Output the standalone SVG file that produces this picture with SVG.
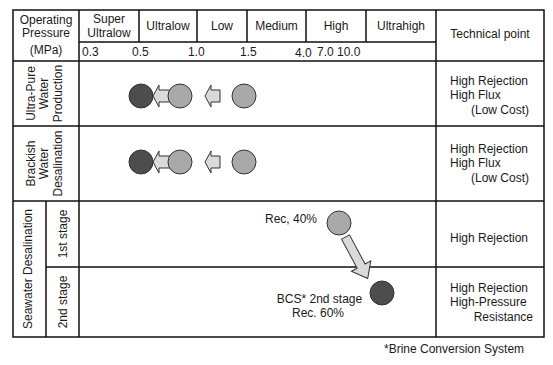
<svg xmlns="http://www.w3.org/2000/svg" width="553" height="365" viewBox="0 0 553 365">
<style>
text{font-family:"Liberation Sans",Arial,sans-serif;font-size:12px;fill:#1a1a1a}
.m{text-anchor:middle}
.e{text-anchor:end}
.ln{stroke:#111;stroke-width:1.5;fill:none}
.dk{fill:#4d4d4d;stroke:#333;stroke-width:1}
.gy{fill:#a9a9a9;stroke:#333;stroke-width:1}
.ar{fill:#dadada;stroke:#333;stroke-width:1}
</style>
<rect width="553" height="365" fill="#fff"/>
<g id="table">
<rect x="13" y="10" width="531" height="327" class="ln"/>
<path class="ln" d="M79 10V337M436 10V337M46 201V337M139 10V42M197 10V42M247 10V42M306 10V42M366 10V42M79 42H436M13 61H544M13 126H544M13 201H544M46 267H544"/>
</g>
<g id="header">
<text class="m" x="46" y="24">Operating</text>
<text class="m" x="46" y="37">Pressure</text>
<text class="m" x="46" y="54">(MPa)</text>
<text class="m" x="109" y="23">Super</text>
<text class="m" x="109" y="37">Ultralow</text>
<text class="m" x="168" y="30">Ultralow</text>
<text class="m" x="222" y="30">Low</text>
<text class="m" x="276.5" y="30">Medium</text>
<text class="m" x="336" y="30">High</text>
<text class="m" x="401" y="30">Ultrahigh</text>
<text class="m" x="490" y="38">Technical point</text>
<text x="82" y="56">0.3</text>
<text x="132" y="56">0.5</text>
<text x="188" y="56">1.0</text>
<text x="240" y="56">1.5</text>
<text x="295" y="57">4.0</text>
<text x="317" y="56">7.0</text>
<text x="337" y="56">10.0</text>
</g>
<g id="row-labels">
<text class="m" transform="translate(34.5 93.5) rotate(-90)">Ultra-Pure</text>
<text class="m" transform="translate(48 93.5) rotate(-90)">Water</text>
<text class="m" transform="translate(61.5 93.5) rotate(-90)">Production</text>
<text class="m" transform="translate(34.5 163.5) rotate(-90)">Brackish</text>
<text class="m" transform="translate(48 163.5) rotate(-90)">Water</text>
<text class="m" transform="translate(61.5 163.5) rotate(-90)">Desalination</text>
<text class="m" transform="translate(32 269) rotate(-90)">Seawater Desalination</text>
<text class="m" transform="translate(67 234) rotate(-90)">1st stage</text>
<text class="m" transform="translate(67 302) rotate(-90)">2nd stage</text>
</g>
<g id="connectors">
<path class="ar" d="M153 96L159 85V90H170V102H159V107Z"/>
<path class="ar" d="M205 96L211 85V90H220V102H211V107Z"/>
<path class="ar" d="M153 162L159 151V156H170V168H159V173Z"/>
<path class="ar" d="M205 162L211 151V156H220V168H211V173Z"/>
<path class="ar" transform="translate(345.5 237) rotate(61.8)" d="M0 -4.5H33V-11L47 0L33 11V4.5H0Z"/>
</g>
<g id="ultrapure-nodes">
<circle class="dk" cx="141" cy="96" r="12"/>
<circle class="gy" cx="180" cy="96" r="12"/>
<circle class="gy" cx="244" cy="96" r="12"/>
</g>
<g id="brackish-nodes">
<circle class="dk" cx="141" cy="162" r="12"/>
<circle class="gy" cx="180" cy="162" r="12"/>
<circle class="gy" cx="244" cy="162" r="12"/>
</g>
<g id="seawater-1st">
<circle class="gy" cx="339" cy="223" r="12"/>
<text class="e" x="317" y="223">Rec, 40%</text>
</g>
<g id="seawater-2nd">
<circle class="dk" cx="382" cy="293" r="12"/>
<text class="m" x="319.5" y="303">BCS* 2nd stage</text>
<text class="m" x="318" y="317">Rec. 60%</text>
</g>
<g id="technical-points">
<text x="450" y="84.5">High Rejection</text>
<text x="450" y="99">High Flux</text>
<text class="e" x="529" y="114">(Low Cost)</text>
<text x="450" y="152.5">High Rejection</text>
<text x="450" y="167">High Flux</text>
<text class="e" x="529" y="182">(Low Cost)</text>
<text x="450" y="241.5">High Rejection</text>
<text x="450" y="291.5">High Rejection</text>
<text x="450" y="306">High-Pressure</text>
<text class="e" x="533" y="320.5">Resistance</text>
</g>
<text x="384" y="353">*Brine Conversion System</text>
</svg>
